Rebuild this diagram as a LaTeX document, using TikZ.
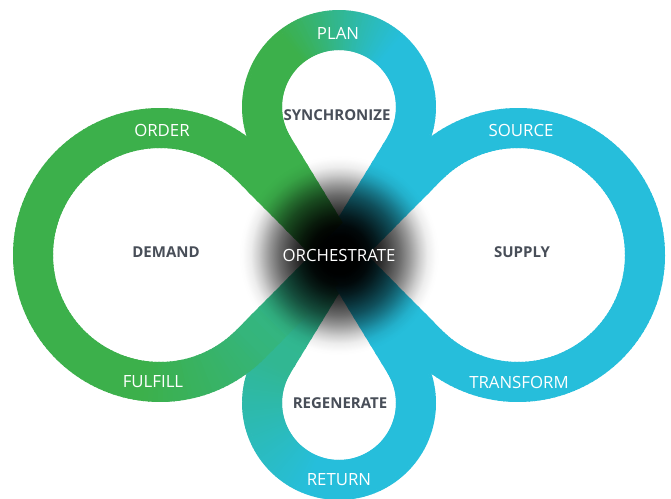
\documentclass[tikz,border=0pt]{standalone}
\usepackage{fontspec}
\setmainfont{Open Sans}
\usetikzlibrary{fadings}
\definecolor{cg}{RGB}{60,176,75}
\definecolor{cb}{RGB}{38,190,219}
\definecolor{txtdark}{RGB}{72,78,88}
\pgfdeclareradialshading{blurshade}{\pgfpointorigin}{%
  color(0bp)=(pgftransparent!0);
  color(5bp)=(pgftransparent!1);
  color(7.5bp)=(pgftransparent!5);
  color(10bp)=(pgftransparent!15);
  color(12.5bp)=(pgftransparent!28);
  color(15bp)=(pgftransparent!42);
  color(17.5bp)=(pgftransparent!60);
  color(20bp)=(pgftransparent!80);
  color(22bp)=(pgftransparent!93);
  color(24bp)=(pgftransparent!99);
  color(25bp)=(pgftransparent!100);
  color(50bp)=(pgftransparent!100)}
\pgfdeclarefading{blurfade}{\pgfuseshading{blurshade}}
\tikzset{
  band/.style={line width=40pt, line cap=butt},
  lightlabel/.style={text=white, font=\fontsize{16.8}{19}\selectfont, inner sep=0pt},
  darklabel/.style={text=txtdark, font=\fontsize{15}{17}\selectfont\bfseries, inner sep=0pt},
}
% straight band piece from (#1,#2) to (#3,#4), colour parameter from #5 to #6
\newcommand\segline[6]{%
  \foreach \kk in {0,...,11}{%
    \pgfmathsetmacro\sa{\kk/12}%
    \pgfmathsetmacro\sb{(\kk+1.3)/12}%
    \pgfmathsetmacro\myt{(#5)+((#6)-(#5))*((\kk+0.5)/12)}%
    \pgfmathtruncatemacro\pp{100*max(0,min(1,\myt))}%
    \draw[band, color=cb!\pp!cg] ({#1+((#3)-(#1))*\sa},{#2+((#4)-(#2))*\sa}) -- ({#1+((#3)-(#1))*\sb},{#2+((#4)-(#2))*\sb});
  }}
% arc band piece: centre (#1,#2), radius #3, from angle #4 to #5, colour expression #6 of \ang
\newcommand\segarc[6]{%
  \pgfmathsetmacro\dA{(#5)-(#4)}%
  \pgfmathtruncatemacro\nseg{abs(\dA)/2}%
  \foreach \kk in {1,...,\nseg}{%
    \pgfmathsetmacro\fA{(\kk-1)/\nseg}%
    \pgfmathsetmacro\fB{(\kk+0.4)/\nseg}%
    \pgfmathsetmacro\fM{(\kk-0.5)/\nseg}%
    \pgfmathsetmacro\angA{(#4)+\dA*\fA}%
    \pgfmathsetmacro\angB{(#4)+\dA*\fB}%
    \pgfmathsetmacro\ang{(#4)+\dA*\fM}%
    \pgfmathsetmacro\myt{#6}%
    \pgfmathtruncatemacro\pp{100*max(0,min(1,\myt))}%
    \draw[band, color=cb!\pp!cg] ({#1+#3*cos(\angA)},{#2+#3*sin(\angA)}) arc[start angle=\angA, end angle=\angB, radius=#3];
  }}
\begin{document}
\begin{tikzpicture}[x=1pt,y=1pt]
\fill[white] (0,0) rectangle (671,498);
\useasboundingbox (0,0) rectangle (671,498);
% top loop
\segline{339}{243}{404.75}{350.94}{1}{1}
\segarc{339}{391}{77}{-31.35}{211.35}{(339+77*cos(\ang)-290)/100}
\segline{273.25}{350.94}{339}{243}{0}{0}
% bottom loop
\segline{339}{243}{273.25}{135.06}{0.45}{0.5}
\segarc{339}{95}{77}{148.65}{391.35}{0.5+0.5*(\ang-148.65)/100}
\segline{404.75}{135.06}{339}{243}{1}{1}
% left loop
\segline{339}{243}{250.1}{332.5}{0}{0}
\segarc{160}{243}{127}{44.8}{315.2}{0.32*(\ang-262)/53.2}
\segline{250.1}{153.5}{339}{243}{0.32}{0.6}
% right loop
\segline{339}{243}{427.9}{332.5}{1}{1}
\segarc{518}{243}{127}{135.2}{-135.2}{1}
\segline{427.9}{153.5}{339}{243}{1}{1}
% central blur
\fill[black, path fading=blurfade, fit fading=true] (339,243) circle[radius=100];
% labels
\node[lightlabel] (plan) at (338,465) {PLAN};
\node[darklabel] (sync) at (337,383) {SYNCHRONIZE};
\node[lightlabel] (order) at (162,368) {ORDER};
\node[lightlabel] (source) at (521,368) {SOURCE};
\node[darklabel] (demand) at (166,246) {DEMAND};
\node[lightlabel] (orch) at (339,243) {ORCHESTRATE};
\node[darklabel] (supply) at (522,246) {SUPPLY};
\node[lightlabel] (fulfill) at (153,116) {FULFILL};
\node[lightlabel] (transform) at (519,116) {TRANSFORM};
\node[darklabel] (regen) at (340,95) {REGENERATE};
\node[lightlabel] (return) at (339,18) {RETURN};
\end{tikzpicture}
\end{document}
